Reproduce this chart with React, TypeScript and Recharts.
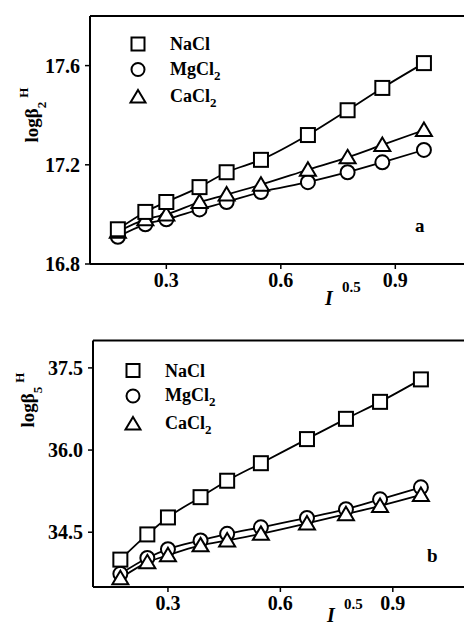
import { ComposedChart, Line, Scatter, XAxis, YAxis, ReferenceLine, Customized } from 'recharts';

// I^0.5 values (same for both panels)
const IONIC = [0.173, 0.245, 0.3, 0.387, 0.458, 0.548, 0.671, 0.775, 0.866, 0.975];

// panel a: log beta2 H
const B2_NACL = [16.94, 17.01, 17.05, 17.11, 17.17, 17.22, 17.32, 17.42, 17.51, 17.61];
const B2_MGCL2 = [16.91, 16.96, 16.98, 17.02, 17.05, 17.09, 17.13, 17.17, 17.21, 17.26];
const B2_CACL2 = [16.93, 16.98, 17.0, 17.05, 17.08, 17.12, 17.18, 17.23, 17.28, 17.34];

// panel b: log beta5 H
const B5_NACL = [34.0, 34.46, 34.77, 35.14, 35.44, 35.76, 36.2, 36.57, 36.88, 37.29];
const B5_MGCL2 = [33.74, 34.03, 34.19, 34.35, 34.47, 34.59, 34.76, 34.92, 35.1, 35.32];
const B5_CACL2 = [33.66, 33.95, 34.08, 34.26, 34.35, 34.47, 34.66, 34.83, 34.98, 35.18];

const X_TICKS = [0.3, 0.6, 0.9];
const B2_TICKS = [16.8, 17.2, 17.6];
const B5_TICKS = [34.5, 36.0, 37.5];

const FONT = "'Liberation Serif', 'Times New Roman', serif";

const toRows = (ys: number[]) => IONIC.map((x, i) => ({ x, y: ys[i] }));

const Square = ({ cx, cy, s = 14 }: any) => (
  <rect x={cx - s / 2} y={cy - s / 2} width={s} height={s} fill="#fff" stroke="#000" strokeWidth={2} />
);
const Circle = ({ cx, cy, s = 14 }: any) => (
  <circle cx={cx} cy={cy} r={s / 2} fill="#fff" stroke="#000" strokeWidth={2} />
);
const Triangle = ({ cx, cy, s = 15 }: any) => (
  <path
    d={`M${cx},${cy - s / 2}L${cx + s / 2 + 0.5},${cy + s * 0.4}L${cx - s / 2 - 0.5},${cy + s * 0.4}Z`}
    fill="#fff"
    stroke="#000"
    strokeWidth={2}
  />
);

function SaltLegend({ mx, tx, rows }: { mx: number; tx: number; rows: number[] }) {
  const txt = { fontFamily: FONT, fontWeight: 'bold' as const, fontSize: 18, fill: '#000' };
  return (
    <g>
      <Square cx={mx} cy={rows[0]} s={13} />
      <Circle cx={mx} cy={rows[1]} s={13} />
      <Triangle cx={mx} cy={rows[2]} s={14} />
      <text x={tx} y={rows[0] + 6} {...txt}>NaCl</text>
      <text x={tx} y={rows[1] + 5} {...txt}>
        MgCl<tspan fontSize={13} dy={5}>2</tspan>
      </text>
      <text x={tx} y={rows[2] + 5} {...txt}>
        CaCl<tspan fontSize={13} dy={5}>2</tspan>
      </text>
    </g>
  );
}

interface PanelProps {
  nacl: number[];
  mgcl2: number[];
  cacl2: number[];
  yDomain: [number, number];
  xMax: number;
  yTicks: number[];
  sub: string;
  letter: string;
  top: number;
  axisW: number;
  xAxisH: number;
  yLab: { x: number; y: number };
  xLab: { x: number; y: number };
  letterPos: { x: number; y: number };
  legend: { mx: number; tx: number; rows: number[] };
}

function Panel(p: PanelProps) {
  const tick = { fontFamily: FONT, fontWeight: 'bold', fontSize: 20, fill: '#000' };
  const text = { fontFamily: FONT, fontWeight: 'bold' as const, fill: '#000' };
  return (
    <ComposedChart width={464} height={314} margin={{ top: p.top, right: 0, left: 0, bottom: 0 }}>
      <XAxis
        type="number"
        dataKey="x"
        domain={[0.1, p.xMax]}
        allowDataOverflow
        ticks={X_TICKS}
        tickFormatter={(v: number) => v.toFixed(1)}
        tick={tick}
        tickSize={5}
        tickMargin={4}
        axisLine={{ stroke: '#000', strokeWidth: 2 }}
        tickLine={{ stroke: '#000', strokeWidth: 1.5 }}
        height={p.xAxisH}
      />
      <YAxis
        type="number"
        domain={p.yDomain}
        allowDataOverflow
        ticks={p.yTicks}
        tickFormatter={(v: number) => v.toFixed(1)}
        tick={tick}
        tickSize={5}
        tickMargin={5}
        axisLine={{ stroke: '#000', strokeWidth: 2 }}
        tickLine={{ stroke: '#000', strokeWidth: 1.5 }}
        width={p.axisW}
      />
      <ReferenceLine y={p.yDomain[1]} stroke="#000" strokeWidth={2} />
      <Line data={toRows(p.nacl)} dataKey="y" type="monotone" stroke="#000" strokeWidth={1.8} dot={false} isAnimationActive={false} />
      <Line data={toRows(p.mgcl2)} dataKey="y" type="monotone" stroke="#000" strokeWidth={1.8} dot={false} isAnimationActive={false} />
      <Line data={toRows(p.cacl2)} dataKey="y" type="monotone" stroke="#000" strokeWidth={1.8} dot={false} isAnimationActive={false} />
      <Scatter data={toRows(p.mgcl2)} dataKey="y" shape={<Circle />} isAnimationActive={false} />
      <Scatter data={toRows(p.cacl2)} dataKey="y" shape={<Triangle />} isAnimationActive={false} />
      <Scatter data={toRows(p.nacl)} dataKey="y" shape={<Square />} isAnimationActive={false} />
      <Customized
        component={
          <g>
            <text
              x={p.yLab.x}
              y={p.yLab.y}
              transform={`rotate(-90, ${p.yLab.x}, ${p.yLab.y})`}
              textAnchor="middle"
              fontSize={19}
              {...text}
            >
              logβ<tspan fontSize={13} dy={8}>{p.sub}</tspan>
              <tspan fontSize={13} dx={4} dy={-18}>H</tspan>
            </text>
            <text x={p.xLab.x} y={p.xLab.y} fontSize={20} fontStyle="italic" {...text}>I</text>
            <text x={p.xLab.x + 17} y={p.xLab.y - 13} fontSize={15} {...text}>0.5</text>
            <text x={p.letterPos.x} y={p.letterPos.y} fontSize={19} {...text}>{p.letter}</text>
            <SaltLegend {...p.legend} />
          </g>
        }
      />
    </ComposedChart>
  );
}

export default function App() {
  return (
    <div style={{ position: 'absolute', left: 0, top: 0, width: 464, height: 628, overflow: 'hidden', background: '#fff' }}>
      <div style={{ position: 'absolute', left: 0, top: 0 }}>
        <Panel
          nacl={B2_NACL}
          mgcl2={B2_MGCL2}
          cacl2={B2_CACL2}
          yDomain={[16.8, 17.8]}
          xMax={1.08}
          yTicks={B2_TICKS}
          sub="2"
          letter="a"
          top={16}
          axisW={90}
          xAxisH={50}
          yLab={{ x: 38, y: 115 }}
          xLab={{ x: 325, y: 305 }}
          letterPos={{ x: 415, y: 232 }}
          legend={{ mx: 138, tx: 170, rows: [44, 69.5, 97] }}
        />
      </div>
      <div style={{ position: 'absolute', left: 0, top: 314 }}>
        <Panel
          nacl={B5_NACL}
          mgcl2={B5_MGCL2}
          cacl2={B5_CACL2}
          yDomain={[33.5, 38]}
          xMax={1.09}
          yTicks={B5_TICKS}
          sub="5"
          letter="b"
          top={26.5}
          axisW={93}
          xAxisH={41}
          yLab={{ x: 34, y: 86 }}
          xLab={{ x: 327, y: 308 }}
          letterPos={{ x: 427, y: 248 }}
          legend={{ mx: 133, tx: 165, rows: [56.5, 82, 110] }}
        />
      </div>
    </div>
  );
}
